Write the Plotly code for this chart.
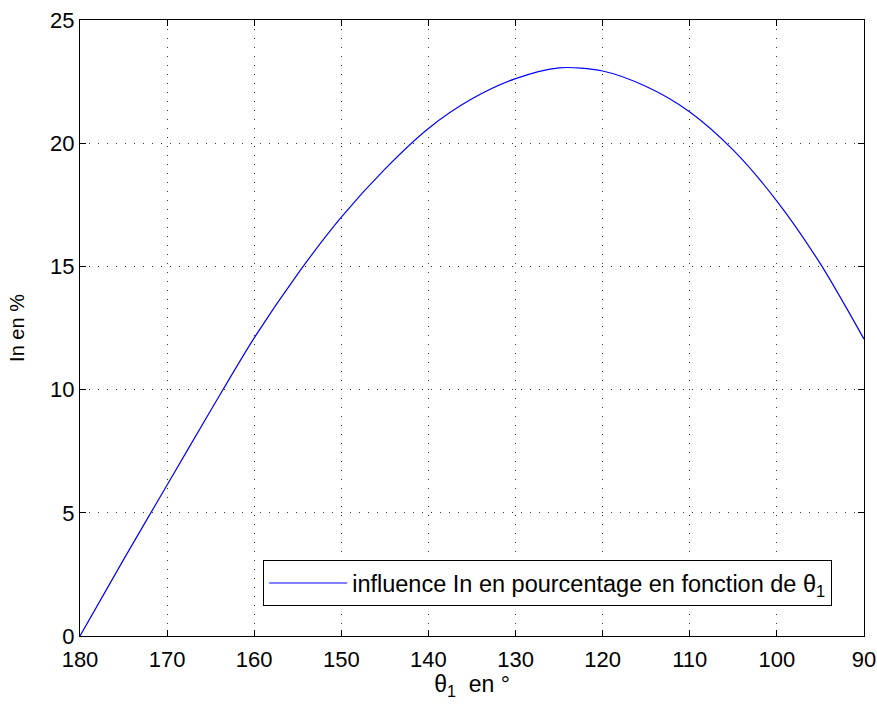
import plotly.graph_objects as go

# Angle theta_1 in degrees and the corresponding In value in percent
theta_deg = [180, 175, 170, 165, 160, 155, 150, 145, 140, 135, 130,
             125, 120, 115, 110, 105, 100, 95, 90]
in_pct = [0.0, 3.1, 6.13, 9.15, 12.1, 14.7, 17.0, 18.95, 20.6, 21.8, 22.62,
          23.06, 22.93, 22.3, 21.27, 19.72, 17.65, 15.1, 12.05]

x_ticks = [180, 170, 160, 150, 140, 130, 120, 110, 100, 90]
y_ticks = [0, 5, 10, 15, 20, 25]

FONT = "Liberation Sans, Arial, sans-serif"

fig = go.Figure()
fig.add_trace(go.Scatter(
    x=theta_deg, y=in_pct, mode="lines",
    line=dict(color="#0000ff", width=1.2, shape="spline", smoothing=0.8),
    name="influence In en pourcentage en fonction de θ<sub>1</sub>",
))

axis_common = dict(
    showline=True, linecolor="black", linewidth=1.2, mirror="ticks",
    ticks="inside", ticklen=6, tickcolor="black", tickwidth=1.2,
    showgrid=True, gridcolor="#333333", gridwidth=1, griddash="1px,8px",
    zeroline=False, automargin=False,
    tickfont=dict(family=FONT, size=22, color="black"),
)

fig.update_xaxes(
    range=[180, 90], tickvals=x_ticks, ticklabelstandoff=3,
    title=dict(text="θ<sub>1</sub>  en °", font=dict(family=FONT, size=23, color="black"), standoff=5),
    **axis_common,
)
fig.update_yaxes(
    range=[0, 25], tickvals=y_ticks,
    title=dict(text="In en %", font=dict(family=FONT, size=20, color="black"), standoff=20),
    **axis_common,
)

fig.update_layout(
    width=877, height=707,
    margin=dict(l=80, r=13, t=20, b=71),
    paper_bgcolor="white", plot_bgcolor="white",
    font=dict(family=FONT, color="black"),
    showlegend=True,
    legend=dict(
        x=0.2334, y=0.0487, xanchor="left", yanchor="bottom",
        bgcolor="white", bordercolor="black", borderwidth=1.2,
        font=dict(family=FONT, size=23.5, color="black"),
        itemwidth=78,
    ),
)

fig.write_html("out.html")
